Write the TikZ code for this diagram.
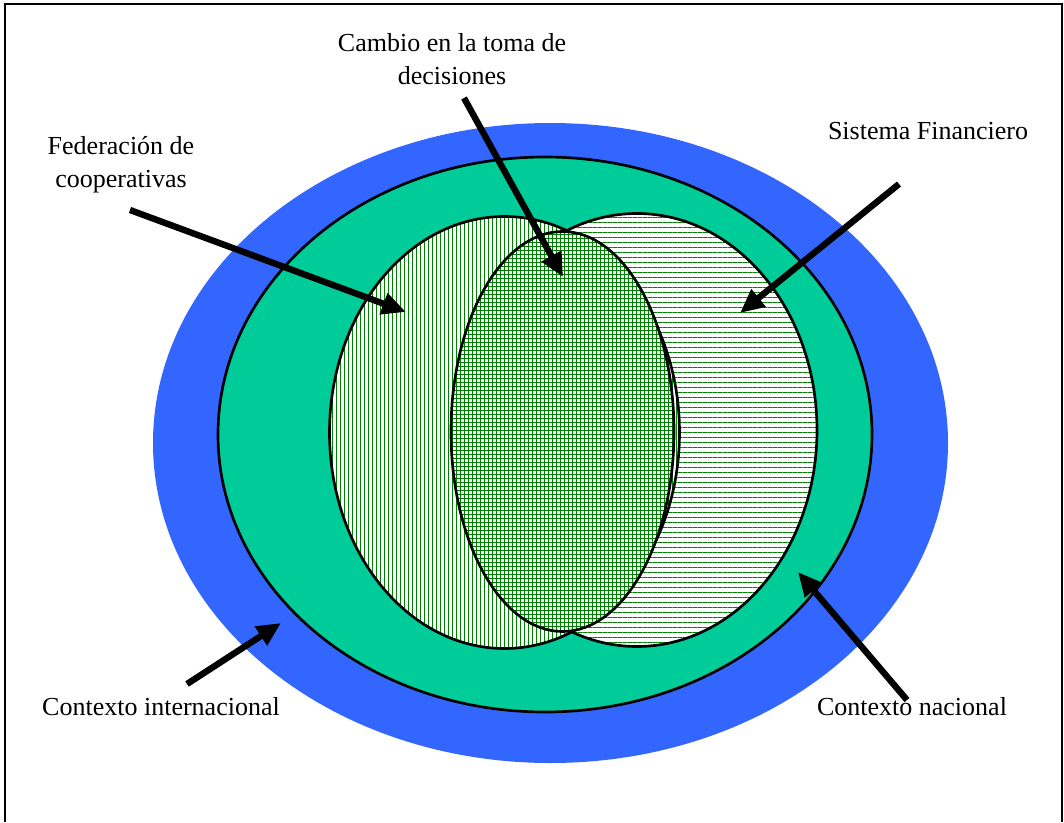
\documentclass[tikz,border=0pt]{standalone}
\usepackage{fontspec}
\setmainfont{Liberation Serif}
\usetikzlibrary{arrows.meta,patterns.meta}
\definecolor{hatchgreen}{RGB}{0,128,0}
\tikzset{
  pointer/.style={line width=4.8pt, -{Triangle[length=18pt,width=16pt]}},
  label/.style={font=\fontsize{19.5}{24.75}\selectfont, align=center, inner sep=0pt},
  ring/.style={line width=2pt},
}
\begin{document}
\begin{tikzpicture}[x=0.75pt,y=0.75pt,yscale=-1,xscale=1]
\useasboundingbox (0,0) rectangle (1064,822);

%Frame
\draw [line width=1.5pt] (4.5,822) -- (4.5,3.5) -- (1062,3.5) -- (1062,822) ;

%Ellipse international
\fill [color={rgb, 255:red, 51; green, 102; blue, 255 }] (550.5,443) ellipse [x radius=397.5, y radius=320] ;
%Ellipse national
\draw [ring, fill={rgb, 255:red, 0; green, 204; blue, 153 }] (545,434.5) ellipse [x radius=327, y radius=277.5] ;

%Ellipse financial system
\draw [ring, preaction={fill=white}, pattern={Lines[angle=0,distance=3.75pt,line width=0.55pt]}, pattern color=hatchgreen] (637,430) ellipse [x radius=180, y radius=216.5] ;
%Ellipse federation
\draw [ring, preaction={fill=white}, pattern={Lines[angle=90,distance=3pt,line width=0.55pt]}, pattern color=hatchgreen] (504.5,432.5) ellipse [x radius=175, y radius=216] ;
%Ellipse decisions
\draw [ring, preaction={fill=white}, pattern={Hatch[angle=0,distance=3pt,line width=0.55pt]}, pattern color=hatchgreen] (562.5,431.5) ellipse [x radius=111.5, y radius=200] ;

% Text Node
\node [label] (cambioLabel) at (452,59.5) {Cambio en la toma de\\decisiones};
% Text Node
\node [label] (fedLabel) at (121,165) {Federación de\\cooperativas};
% Text Node
\node [label] (sistemaLabel) at (928,131) {Sistema Financiero};
% Text Node
\node [label] (interLabel) at (161,707) {Contexto internacional};
% Text Node
\node [label] (nacLabel) at (912,707) {Contexto nacional};

%Arrow ends
\coordinate (cambioTail) at (464,98) ;
\coordinate (cambioTip) at (563,277) ;
\coordinate (fedTail) at (130,210) ;
\coordinate (fedTip) at (406,312) ;
\coordinate (sistemaTail) at (899,184) ;
\coordinate (sistemaTip) at (740,313) ;
\coordinate (interTail) at (187,684) ;
\coordinate (interTip) at (281,623) ;
\coordinate (nacTail) at (907,700) ;
\coordinate (nacTip) at (798,572) ;

%Arrows
\draw [pointer] (cambioTail) -- (cambioTip) ;
\draw [pointer] (fedTail) -- (fedTip) ;
\draw [pointer] (sistemaTail) -- (sistemaTip) ;
\draw [pointer] (interTail) -- (interTip) ;
\draw [pointer] (nacTail) -- (nacTip) ;

\end{tikzpicture}
\end{document}
